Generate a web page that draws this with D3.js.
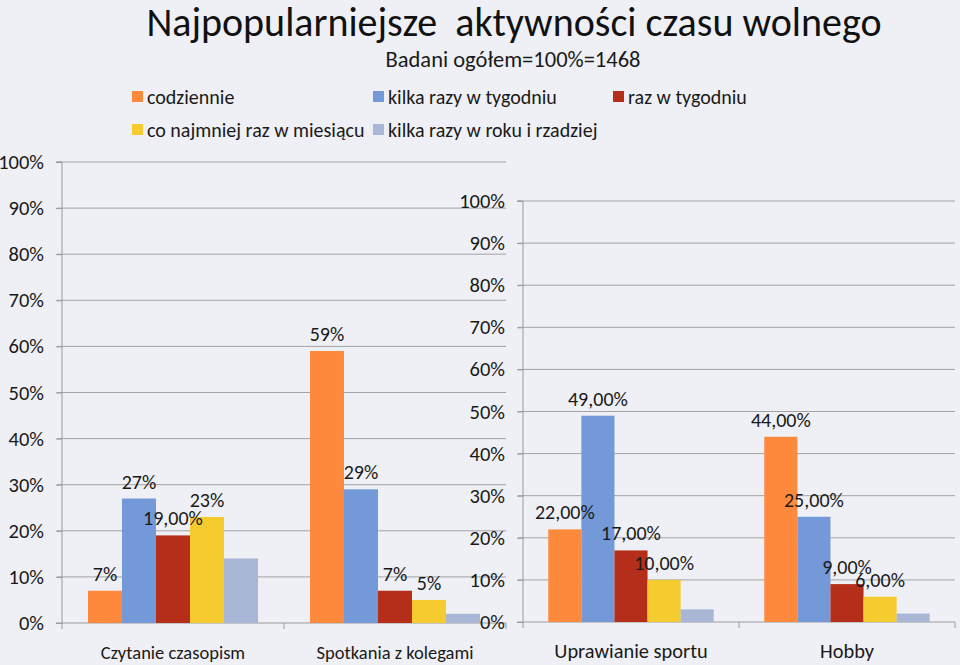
<!DOCTYPE html>
<html><head><meta charset="utf-8">
<script src="https://cdn.jsdelivr.net/npm/d3@7"></script>
<style>
html,body{margin:0;padding:0;background:#eff0f5;}
svg{display:block;font-family:Carlito,Calibri,Lato,sans-serif;}
text{white-space:pre;}
</style></head>
<body>
<svg id="chart" width="960" height="665"></svg>
<script>
// ---- data ----
const titleText = "Najpopularniejsze  aktywności czasu wolnego";
const subtitleText = "Badani ogółem=100%=1468";
const seriesNames = ["codziennie", "kilka razy w tygodniu", "raz w tygodniu", "co najmniej raz w miesiącu", "kilka razy w roku i rzadziej"];
const seriesColors = ["#fd8a3c", "#7399d9", "#b52e1a", "#f5cb2f", "#a9b6d6"];
const categoriesLeft = ["Czytanie czasopism", "Spotkania z kolegami"];
const categoriesRight = ["Uprawianie sportu", "Hobby"];
// values per series: [Czytanie, Spotkania, Sport, Hobby]
const codziennie = [7, 59, 22, 44];
const kilkaTydz = [27, 29, 49, 25];
const razTydz = [19, 7, 17, 9];
const razMies = [23, 5, 10, 6];
const kilkaRok = [14, 2, 3, 2];
// data labels as displayed ("" = no label)
const labelsCodziennie = ["7%", "59%", "22,00%", "44,00%"];
const labelsKilkaTydz = ["27%", "29%", "49,00%", "25,00%"];
const labelsRazTydz = ["19,00%", "7%", "17,00%", "9,00%"];
const labelsRazMies = ["23%", "5%", "10,00%", "6,00%"];
const labelsKilkaRok = ["", "", "", ""];
const yTicks = [0, 10, 20, 30, 40, 50, 60, 70, 80, 90, 100];

const seriesValues = [codziennie, kilkaTydz, razTydz, razMies, kilkaRok];
const seriesLabels = [labelsCodziennie, labelsKilkaTydz, labelsRazTydz, labelsRazMies, labelsKilkaRok];

const svg = d3.select("#chart");
const textColor = "#1a1a1a";
const gridColor = "#a3a3a3";
const axisColor = "#9a9a9a";

// title
svg.append("text").attr("x", 514).attr("y", 36).attr("text-anchor", "middle")
  .attr("font-size", 40).attr("fill", "#111").text(titleText);
svg.append("text").attr("x", 513).attr("y", 67).attr("text-anchor", "middle")
  .attr("font-size", 22.5).attr("fill", textColor).text(subtitleText);

// legend
const legendPos = [[132, 97], [373, 97], [613, 97], [132, 130], [373, 130]];
seriesNames.forEach((n, i) => {
  const [lx, ly] = legendPos[i];
  svg.append("rect").attr("x", lx).attr("y", ly - 6).attr("width", 11).attr("height", 11).attr("fill", seriesColors[i]);
  svg.append("text").attr("x", lx + 15).attr("y", ly + 7).attr("font-size", 20).attr("fill", textColor).text(n);
});

function drawChart(cats, catOffset, x0, x1, yBottom, yTop, catFont) {
  const g = svg.append("g");
  const y = d3.scaleLinear().domain([0, 100]).range([yBottom, yTop]);
  const x = d3.scaleBand().domain(cats).range([x0, x1]);
  const bw = x.bandwidth();
  const xs = d3.scaleBand().domain(seriesNames).range([bw * 0.117, bw * 0.883]);

  // gridlines
  g.append("g").selectAll("line").data(yTicks.filter(t => t > 0)).join("line")
    .attr("x1", x0 - 5).attr("x2", x1).attr("y1", d => y(d)).attr("y2", d => y(d))
    .attr("stroke", gridColor).attr("stroke-width", 1);

  // y axis
  const ya = d3.axisLeft(y).tickValues(yTicks).tickFormat(d => d + "%").tickSize(6).tickPadding(12);
  const yg = g.append("g").attr("transform", `translate(${x0},0)`).call(ya);
  yg.select(".domain").attr("stroke", axisColor).attr("d", `M-6,${yTop}H0V${yBottom}H-6`);
  yg.selectAll(".tick line").attr("stroke", axisColor);
  yg.selectAll(".tick text").attr("font-size", 20.5).attr("fill", textColor)
    .attr("font-family", "Carlito,Calibri,Lato,sans-serif");

  // x axis
  const xg = g.append("g").attr("transform", `translate(0,${yBottom})`);
  xg.append("line").attr("x1", x0).attr("x2", x1).attr("y1", 0).attr("y2", 0).attr("stroke", axisColor);
  const bounds = cats.map(c => x(c)).concat([x1]);
  xg.selectAll("line.tk").data(bounds).join("line").attr("class", "tk")
    .attr("x1", d => d).attr("x2", d => d).attr("y1", 0).attr("y2", 6).attr("stroke", axisColor);
  xg.selectAll("text").data(cats).join("text")
    .attr("x", d => x(d) + bw / 2).attr("y", 36).attr("text-anchor", "middle")
    .attr("font-size", catFont).attr("fill", textColor).text(d => d);

  // bars
  seriesNames.forEach((s, si) => {
    const vals = seriesValues[si];
    cats.forEach((c, ci) => {
      const v = vals[ci + catOffset];
      g.append("rect").attr("x", x(c) + xs(s)).attr("width", xs.bandwidth())
        .attr("y", y(v)).attr("height", y(0) - y(v)).attr("fill", seriesColors[si]);
    });
  });
  // labels
  seriesNames.forEach((s, si) => {
    const vals = seriesValues[si];
    cats.forEach((c, ci) => {
      const lab = seriesLabels[si][ci + catOffset];
      if (!lab) return;
      const v = vals[ci + catOffset];
      g.append("text").attr("x", x(c) + xs(s) + xs.bandwidth() / 2).attr("y", y(v) - 10)
        .attr("text-anchor", "middle").attr("font-size", 20).attr("fill", textColor).text(lab);
    });
  });
}

drawChart(categoriesLeft, 0, 62, 506, 623, 162, 18.5);
drawChart(categoriesRight, 2, 523, 955, 622, 201, 20.4);
</script>
</body></html>
